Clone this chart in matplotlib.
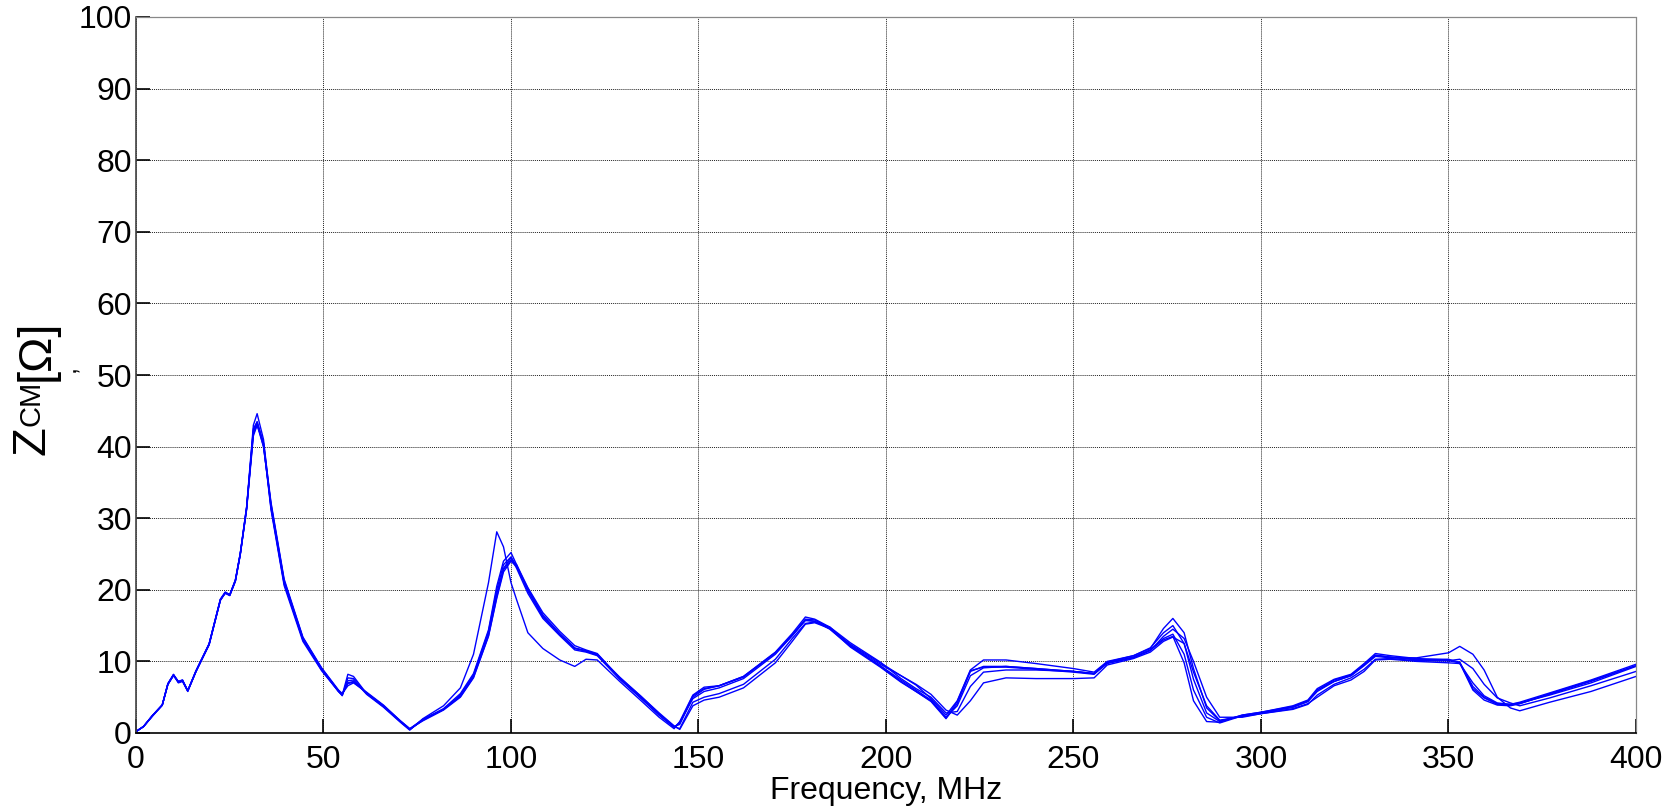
import matplotlib
matplotlib.use("Agg")
import matplotlib.pyplot as plt

plt.rcParams["font.family"] = ["Liberation Sans", "DejaVu Sans"]

# frequency grid, MHz
freq = [0, 2, 4.5, 7, 8.5, 10, 11.3, 12.4, 13.8, 16,
        19.5, 22.5, 23.8, 25, 26.5, 27.8, 29.5, 31.3, 32.3, 34,
        36, 39.5, 44.5, 49.5, 54, 55, 56.5, 58, 61.5, 66,
        70.5, 73, 76.5, 82, 86.5, 90, 94, 96.2, 98, 100,
        101.5, 104.5, 108.5, 113, 117, 120, 123, 129, 134.5, 139.5,
        143.5, 145, 148.5, 151.5, 155.5, 162, 170.5, 175, 178.5, 181,
        185, 190.5, 198.5, 204, 208, 212, 216, 219, 222.5, 226,
        232, 240, 250, 255.5, 259, 266, 270.5, 274, 276.5, 279.5,
        282, 285.5, 289, 295, 300, 308.5, 312.5, 315, 319.5, 324,
        327.5, 330.5, 334.5, 341.5, 350, 353, 356.5, 359.5, 363, 366.5,
        369, 377, 388, 400]

# common-mode impedance per measurement, Ohm
zcm_1 = [0.2, 0.9, 2.5, 3.9, 6.8, 8.1, 7.2, 7.4, 5.9, 8.6,
         12.4, 18.6, 19.6, 19.3, 21.3, 25.0, 31.5, 42.0, 43.3, 40.0,
         31.8, 21.2, 13.2, 9.0, 5.9, 5.4, 7.0, 7.2, 5.6, 3.8,
         1.6, 0.5, 1.8, 3.3, 5.2, 8.0, 14.0, 19.5, 23.0, 24.5,
         23.0, 19.5, 16.0, 13.6, 11.6, 11.3, 10.8, 7.5, 4.9, 2.5,
         0.8, 1.5, 4.8, 5.8, 6.3, 7.6, 11.0, 13.6, 15.8, 15.6,
         14.5, 12.1, 9.4, 7.4, 6.0, 4.6, 2.2, 3.8, 8.0, 9.1,
         9.3, 9.0, 8.6, 8.3, 9.8, 10.6, 11.6, 13.2, 13.8, 11.0,
         6.0, 2.2, 1.4, 2.4, 2.8, 3.6, 4.4, 5.8, 7.2, 8.0,
         9.5, 10.8, 10.6, 10.3, 10.3, 9.8, 6.2, 4.9, 4.0, 3.9,
         4.1, 5.4, 7.2, 9.4]
zcm_2 = [0.2, 0.9, 2.5, 3.9, 6.9, 8.2, 7.1, 7.3, 5.9, 8.7,
         12.5, 18.7, 19.7, 19.3, 21.4, 25.1, 31.6, 43.0, 44.6, 41.0,
         31.6, 20.9, 13.0, 8.8, 5.8, 5.3, 8.2, 7.9, 5.5, 3.7,
         1.6, 0.5, 1.9, 3.4, 5.5, 8.3, 14.4, 20.5, 24.0, 25.2,
         23.5, 20.0, 16.3, 13.8, 11.8, 11.5, 11.0, 7.6, 5.0, 2.6,
         0.9, 1.2, 5.0, 6.1, 6.6, 7.9, 11.3, 13.9, 16.2, 15.9,
         14.8, 12.2, 9.3, 7.2, 5.8, 4.4, 2.0, 4.1, 8.6, 9.3,
         9.3, 9.0, 8.6, 8.3, 9.9, 10.8, 11.9, 14.0, 15.0, 12.5,
         7.5, 2.8, 1.6, 2.5, 2.9, 3.8, 4.6, 6.2, 7.5, 8.2,
         9.7, 11.1, 10.8, 10.4, 10.2, 9.9, 6.5, 5.0, 4.1, 4.0,
         4.3, 5.6, 7.4, 9.6]
zcm_3 = [0.2, 0.9, 2.4, 3.9, 6.8, 8.1, 7.0, 7.2, 5.8, 8.6,
         12.4, 18.6, 19.5, 19.2, 21.2, 24.9, 31.3, 42.5, 43.4, 40.3,
         31.2, 20.6, 12.8, 8.7, 5.8, 5.3, 7.3, 7.4, 5.4, 3.6,
         1.5, 0.4, 2.0, 3.8, 6.3, 11.0, 21.0, 28.1, 26.0, 21.0,
         18.6, 14.0, 11.8, 10.2, 9.3, 10.3, 10.2, 7.2, 4.6, 2.2,
         0.6, 1.6, 5.3, 6.4, 6.6, 7.8, 11.2, 13.6, 15.7, 15.6,
         14.6, 12.0, 9.2, 7.1, 5.8, 4.5, 2.1, 4.4, 8.7, 9.2,
         9.2, 8.9, 8.5, 8.2, 9.8, 10.6, 11.6, 13.0, 13.5, 9.8,
         4.5, 1.6, 1.5, 2.5, 2.9, 3.7, 4.5, 6.0, 7.4, 8.1,
         9.6, 10.9, 10.6, 10.2, 10.1, 9.8, 6.0, 4.6, 3.9, 3.8,
         4.1, 5.5, 7.3, 9.4]
zcm_4 = [0.2, 0.9, 2.5, 3.9, 6.8, 8.1, 7.2, 7.4, 5.9, 8.7,
         12.4, 18.6, 19.6, 19.3, 21.3, 25.0, 31.2, 41.5, 43.0, 40.5,
         32.2, 21.5, 13.4, 9.1, 6.0, 5.5, 6.6, 7.0, 5.7, 3.9,
         1.7, 0.6, 1.7, 3.2, 5.0, 7.7, 13.5, 18.8, 22.5, 24.0,
         23.2, 20.2, 16.5, 13.9, 11.9, 11.4, 10.9, 7.8, 5.2, 2.8,
         1.0, 0.5, 3.8, 4.6, 5.0, 6.3, 9.8, 12.8, 15.2, 15.4,
         14.6, 12.4, 9.8, 8.0, 6.8, 5.4, 3.2, 2.5, 4.5, 7.0,
         7.7, 7.6, 7.6, 7.7, 9.5, 10.4, 11.3, 12.8, 13.4, 12.5,
         8.5, 3.8, 1.8, 2.3, 2.7, 3.4, 4.1, 5.0, 6.6, 7.4,
         8.6, 10.2, 10.3, 10.0, 9.8, 9.7, 7.0, 5.2, 4.2, 4.0,
         4.2, 5.3, 7.0, 9.3]
zcm_5 = [0.2, 0.9, 2.5, 3.9, 6.9, 8.1, 7.1, 7.3, 5.9, 8.6,
         12.3, 18.5, 19.6, 19.2, 21.2, 24.9, 31.4, 42.3, 43.5, 40.5,
         31.4, 20.9, 13.1, 8.9, 5.8, 5.2, 7.7, 7.6, 5.5, 3.7,
         1.6, 0.5, 1.8, 3.3, 5.3, 8.1, 14.2, 20.0, 23.5, 24.6,
         23.3, 19.8, 16.2, 13.8, 11.8, 11.5, 11.0, 7.6, 5.0, 2.5,
         0.8, 1.4, 5.2, 6.2, 6.6, 7.9, 11.2, 13.7, 15.9, 15.8,
         14.7, 12.3, 9.6, 8.0, 6.7, 4.8, 2.5, 4.5, 8.8, 10.2,
         10.2, 9.7, 9.0, 8.5, 10.0, 10.8, 11.8, 14.6, 16.0, 14.0,
         9.0, 3.5, 1.7, 2.4, 2.8, 3.6, 4.4, 6.0, 7.2, 8.0,
         9.4, 10.7, 10.5, 10.5, 11.2, 12.1, 11.0, 8.8, 5.0, 3.5,
         3.1, 4.3, 5.8, 7.9]
zcm_6 = [0.2, 0.9, 2.5, 3.9, 6.8, 8.0, 7.1, 7.3, 5.9, 8.6,
         12.4, 18.6, 19.6, 19.3, 21.3, 25.0, 31.5, 41.8, 43.0, 40.0,
         32.0, 21.3, 13.3, 9.0, 5.9, 5.5, 6.9, 7.1, 5.6, 3.8,
         1.7, 0.6, 1.9, 3.3, 5.1, 7.8, 13.6, 19.0, 22.8, 24.2,
         23.5, 20.3, 16.8, 14.2, 12.2, 11.6, 11.1, 7.7, 5.2, 2.7,
         0.9, 0.6, 4.3, 5.0, 5.5, 6.8, 10.3, 13.2, 15.3, 15.5,
         14.8, 12.6, 9.9, 7.6, 6.2, 5.0, 2.8, 3.0, 6.5, 8.5,
         8.8, 8.8, 8.6, 8.3, 9.7, 10.5, 11.5, 13.5, 14.5, 13.2,
         10.0, 5.0, 2.2, 2.2, 2.7, 3.3, 4.0, 5.3, 6.8, 7.7,
         8.9, 10.3, 10.4, 10.1, 10.1, 10.3, 9.0, 6.8, 4.9, 4.2,
         3.8, 4.9, 6.6, 8.6]

x_ticks = [0, 50, 100, 150, 200, 250, 300, 350, 400]
y_ticks = [0, 10, 20, 30, 40, 50, 60, 70, 80, 90, 100]

W, H = 1681, 811
fig = plt.figure(figsize=(W / 100, H / 100), dpi=100)
ax = fig.add_axes([136 / W, 1 - 733 / H, 1500 / W, 716 / H])

for z in [zcm_1, zcm_2, zcm_3, zcm_4, zcm_5, zcm_6]:
    ax.plot(freq, z, color="#0000ff", lw=1.0)

ax.set_xlim(0, 400)
ax.set_ylim(0, 100)
ax.set_xticks(x_ticks)
ax.set_yticks(y_ticks)
ax.grid(True, color="#222222", lw=0.7, linestyle=(0, (1, 1)))
ax.tick_params(direction="in", length=10, width=1.2, labelsize=23, colors="black")
ax.tick_params(axis="x", pad=9)
ax.tick_params(axis="y", pad=3)

ax.spines["left"].set_color("#444444")
ax.spines["left"].set_linewidth(1.2)
ax.spines["bottom"].set_color("black")
ax.spines["bottom"].set_linewidth(1.2)
for side in ["top", "right"]:
    ax.spines[side].set_color("#888888")
    ax.spines[side].set_linestyle((0, (1, 1)))
    ax.spines[side].set_linewidth(0.9)

ax.set_xlabel("Frequency, MHz", fontsize=23, labelpad=0)

# y label assembled in pieces: Z, CM, [Ω] and a small comma
def px(x, y):
    return x / W, 1 - y / H

fig.text(*px(32, 441), "Z", rotation=90, fontsize=34, ha="center", va="center")
fig.text(*px(32, 403), "CM", rotation=90, fontsize=21, ha="center", va="center")
fig.text(*px(37, 350), "[Ω]", rotation=90, fontsize=34, ha="center", va="center")
fig.text(*px(68, 369), ",", rotation=90, fontsize=18, ha="center", va="center")

fig.savefig("out.png", dpi=100)
